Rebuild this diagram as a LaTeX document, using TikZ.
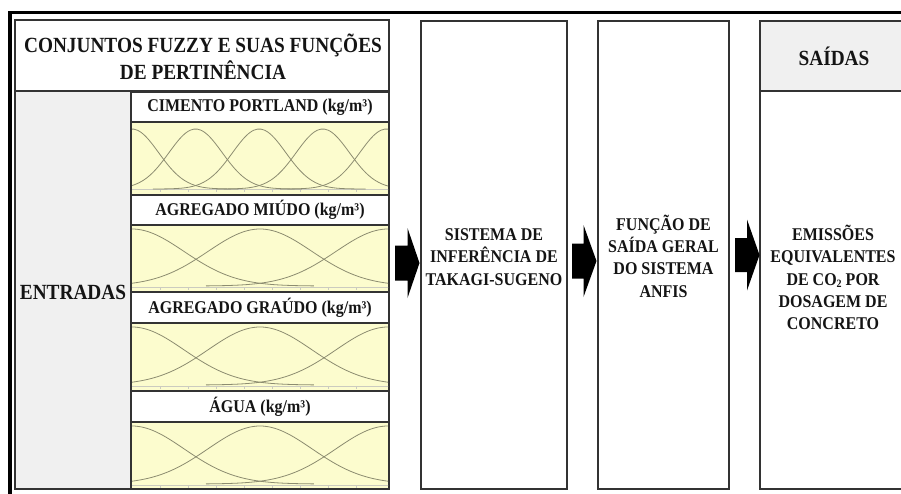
\documentclass[tikz,border=0pt]{standalone}
\usepackage{fontspec}
\usepackage{graphicx}
\setmainfont{Liberation Serif}
\definecolor{chartyellow}{RGB}{252,252,206}
\definecolor{cellgray}{RGB}{240,240,240}
\definecolor{mfgray}{RGB}{140,140,112}
\definecolor{inkblack}{RGB}{20,20,20}
\newcommand{\vst}[1]{\scalebox{1}[1.12]{#1}}
\begin{document}
\begin{tikzpicture}[x=1pt,y=-1pt,
  cell/.style={draw=black!80, line width=1.2pt, anchor=north west, inner sep=0pt, outer sep=0pt},
  chart/.style={cell, fill=chartyellow},
  graycell/.style={cell, fill=cellgray},
  lbl/.style={font=\fontsize{16}{19}\selectfont\bfseries, text=inkblack, align=center, inner sep=0pt},
  big/.style={font=\fontsize{19.3}{27}\selectfont\bfseries, text=inkblack, align=center, inner sep=0pt},
  body/.style={font=\fontsize{16}{22.3}\selectfont\bfseries, text=inkblack, align=center, inner sep=0pt},
  mf/.style={draw=mfgray, line width=0.8pt},
  faint/.style={draw=mfgray!45, line width=0.5pt},
  blockarrow/.style={fill=black, draw=none}]
\useasboundingbox (0,0) rectangle (901,493);
\clip (0,0) rectangle (901,493);

% outer frame
\coordinate (frameBL) at (10,520);
\coordinate (frameTL) at (10,12.3);
\coordinate (frameTR) at (930,12.3);
\draw[line width=3.5pt, black] (frameBL) -- (frameTL) -- (frameTR);

% left panel
\node[cell, minimum width=374pt, minimum height=469pt] (leftpanel) at (15,20) {};
\node[cell, minimum width=374pt, minimum height=71pt] (titlecell) at (15,20) {};
\node[big] (title) at (203,56.5) {\vst{CONJUNTOS FUZZY E SUAS FUNÇÕES}\\\vst{DE PERTINÊNCIA}};
\node[graycell, minimum width=116pt, minimum height=398pt] (entcell) at (15,91) {};
\node[big] (entradas) at (73,292) {\vst{ENTRADAS}};

% labels and charts
\node[cell, minimum width=258pt, minimum height=30pt] (l1) at (131,92) {};
\node[lbl] at (l1.center) {\vst{CIMENTO PORTLAND (kg/m³)}};
\node[chart, minimum width=258pt, minimum height=73pt] (c1) at (131,122) {};
\node[cell, minimum width=258pt, minimum height=30pt] (l2) at (131,195) {};
\node[lbl] at (l2.center) {\vst{AGREGADO MIÚDO (kg/m³)}};
\node[chart, minimum width=258pt, minimum height=67pt] (c2) at (131,225) {};
\node[cell, minimum width=258pt, minimum height=31pt] (l3) at (131,292) {};
\node[lbl] at (l3.center) {\vst{AGREGADO GRAÚDO (kg/m³)}};
\node[chart, minimum width=258pt, minimum height=68pt] (c3) at (131,323) {};
\node[cell, minimum width=258pt, minimum height=31pt] (l4) at (131,391) {};
\node[lbl] at (l4.center) {\vst{ÁGUA (kg/m³)}};
\node[chart, minimum width=258pt, minimum height=67pt] (c4) at (131,422) {};

% membership functions, chart 1 (five sets)
\begin{scope}
  \clip (132,123) rectangle (388,194);
  \draw[faint] (131,189) -- (389,189);
  \foreach \t in {160,188,216,244,272,300,328,356}
    \draw[faint] (\t,189) -- (\t,192);
  \foreach \c in {132,195.6,259.2,322.8,386.4}
    \draw[mf] plot[domain=-4:4, samples=60, smooth] ({\c+26.6*\x},{189-60*exp(-0.5*\x*\x)});
\end{scope}
% charts 2-4 (three sets)
\foreach \top/\bot/\pk/\bs in {225/292/229/286, 323/391/327/385, 422/489/426/484}{
  \begin{scope}
    \clip (132,\top+1) rectangle (388,\bot-1);
    \draw[faint] (131,\bs+1) -- (389,\bs+1);
    \foreach \t in {160,188,216,244,272,300,328,356}
      \draw[faint] (\t,\bs+1) -- (\t,\bs+4);
    \foreach \c in {132,260,388}
      \draw[mf] plot[domain=-3.5:3.5, samples=60, smooth] ({\c+52*\x},{\bs-(\bs-\pk)*exp(-0.5*\x*\x)});
  \end{scope}
}

% middle boxes
\node[cell, minimum width=146pt, minimum height=468pt] (ts) at (421,21) {};
\node[body] (tstext) at (494,257) {\vst{SISTEMA DE}\\\vst{INFERÊNCIA DE}\\\vst{TAKAGI-SUGENO}};
\node[cell, minimum width=131pt, minimum height=468pt] (anfis) at (598,21) {};
\node[body] (anfistext) at (663.5,256) {\vst{FUNÇÃO DE}\\\vst{SAÍDA GERAL}\\\vst{DO SISTEMA}\\\vst{ANFIS}};

% output box
\node[cell, minimum width=160pt, minimum height=468pt] (out) at (760,21) {};
\node[graycell, minimum width=160pt, minimum height=70pt] (outhead) at (760,21) {};
\node[big] (saidas) at (834,56) {\vst{SAÍDAS}};
\node[body] (outtext) at (833,277.5) {\vst{EMISSÕES}\\\vst{EQUIVALENTES}\\\vst{DE CO{\fontsize{10}{10}\selectfont\raisebox{-2.5pt}{2}} POR}\\\vst{DOSAGEM DE}\\\vst{CONCRETO}};

% block arrows
\foreach \xa/\xm/\xt/\yc/\sh/\hh in {395/407.5/419.5/263/17.5/35, 572/583.5/596.5/261/17.5/36, 735/747/759.5/255/17/35.5}
  \fill[blockarrow] (\xa,\yc-\sh) -- (\xm,\yc-\sh) -- (\xm,\yc-\hh) -- (\xt,\yc) -- (\xm,\yc+\hh) -- (\xm,\yc+\sh) -- (\xa,\yc+\sh) -- cycle;
\end{tikzpicture}
\end{document}
